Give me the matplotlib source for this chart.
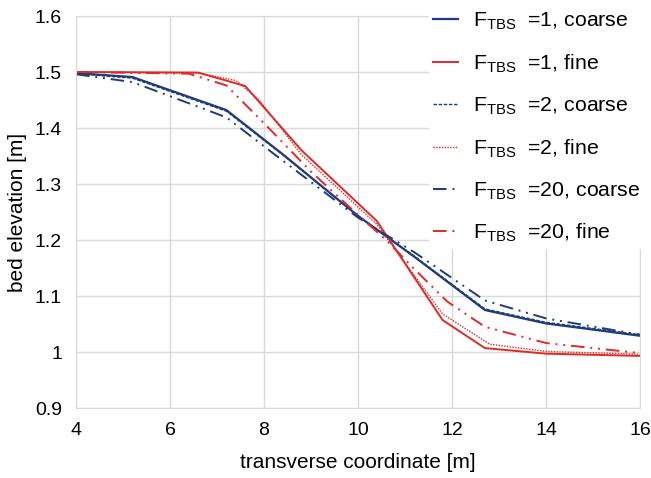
import matplotlib
matplotlib.use("Agg")
import matplotlib.pyplot as plt

# -------------------------------------------------------------------
# Data
# -------------------------------------------------------------------
BLUE = "#1f3b7c"
RED = "#e02a2a"

x_f1_coarse = [4, 5.2, 7.2, 8.4, 10, 11.2, 12.7, 14, 16]
y_f1_coarse = [1.498, 1.491, 1.432, 1.353, 1.243, 1.170, 1.075, 1.051, 1.029]

x_f1_fine = [4, 6.6, 7.6, 8.8, 10.4, 11.8, 12.7, 14, 16]
y_f1_fine = [1.500, 1.499, 1.475, 1.360, 1.234, 1.057, 1.007, 0.997, 0.993]

x_f2_coarse = [4, 5.2, 7.2, 8.4, 10, 11.2, 12.7, 14, 16]
y_f2_coarse = [1.497, 1.489, 1.430, 1.352, 1.243, 1.171, 1.077, 1.053, 1.031]

x_f2_fine = [4, 6.6, 7.4, 7.9, 8.8, 10.4, 11.8, 12.8, 14, 16]
y_f2_fine = [1.500, 1.498, 1.485, 1.450, 1.352, 1.228, 1.068, 1.014, 1.001, 0.996]

x_f20_coarse = [4, 5.2, 7.2, 8.3, 10, 11.2, 12.7, 14, 16]
y_f20_coarse = [1.496, 1.482, 1.419, 1.348, 1.240, 1.178, 1.092, 1.060, 1.031]

x_f20_fine = [4, 6.4, 7.2, 8.1, 9, 10, 10.6, 11.2, 11.9, 12.7, 14, 16]
y_f20_fine = [1.500, 1.497, 1.476, 1.400, 1.322, 1.245, 1.200, 1.148, 1.090, 1.045, 1.016, 0.998]

labels = [
    r"F$_{\mathregular{TBS}}$  =1, coarse",
    r"F$_{\mathregular{TBS}}$  =1, fine",
    r"F$_{\mathregular{TBS}}$  =2, coarse",
    r"F$_{\mathregular{TBS}}$  =2, fine",
    r"F$_{\mathregular{TBS}}$  =20, coarse",
    r"F$_{\mathregular{TBS}}$  =20, fine",
]

x_ticks = [4, 6, 8, 10, 12, 14, 16]
y_ticks = [0.9, 1.0, 1.1, 1.2, 1.3, 1.4, 1.5, 1.6]
y_tick_labels = ["0.9", "1", "1.1", "1.2", "1.3", "1.4", "1.5", "1.6"]

# -------------------------------------------------------------------
# Plot
# -------------------------------------------------------------------
plt.rcParams["font.family"] = ["Liberation Sans", "DejaVu Sans"]
plt.rcParams["mathtext.fontset"] = "custom"
plt.rcParams["mathtext.rm"] = "Liberation Sans"

fig = plt.figure(figsize=(6.51, 4.78), dpi=100)
ax = fig.add_axes([76 / 651, 1 - 408 / 478, (640 - 76) / 651, (408 - 16) / 478])

dashdot = (0, (7, 3, 1, 3, 1, 3))
ax.plot(x_f1_coarse, y_f1_coarse, color=BLUE, lw=1.6, label=labels[0])
ax.plot(x_f1_fine, y_f1_fine, color=RED, lw=1.4, label=labels[1])
ax.plot(x_f2_coarse, y_f2_coarse, color=BLUE, lw=1.0, ls=(0, (2.5, 1.2)), label=labels[2])
ax.plot(x_f2_fine, y_f2_fine, color=RED, lw=1.0, ls=(0, (1, 1)), label=labels[3])
ax.plot(x_f20_coarse, y_f20_coarse, color=BLUE, lw=1.4, ls=dashdot, label=labels[4])
ax.plot(x_f20_fine, y_f20_fine, color=RED, lw=1.4, ls=dashdot, label=labels[5])

ax.set_xlim(4, 16)
ax.set_ylim(0.9, 1.6)
ax.set_xticks(x_ticks)
ax.set_yticks(y_ticks)
ax.set_yticklabels(y_tick_labels)
ax.tick_params(length=0, labelsize=14, pad=10)
ax.grid(True, color="#d9d9d9", lw=1)
ax.set_axisbelow(True)
for s in ax.spines.values():
    s.set_color("#d9d9d9")

ax.set_xlabel("transverse coordinate [m]", fontsize=15, labelpad=10)
ax.set_ylabel("bed elevation [m]", fontsize=15, labelpad=6)

leg = ax.legend(loc="upper left", bbox_to_anchor=(418 / 651, 1 + 4 / 478),
                bbox_transform=fig.transFigure, fontsize=15.3, frameon=True,
                facecolor="white", edgecolor="none", framealpha=1, fancybox=False,
                handlelength=1.2, handletextpad=0.7, labelspacing=0.95,
                borderpad=0.2)
leg.get_frame().set_linewidth(0)

fig.savefig("out.png", dpi=100)
